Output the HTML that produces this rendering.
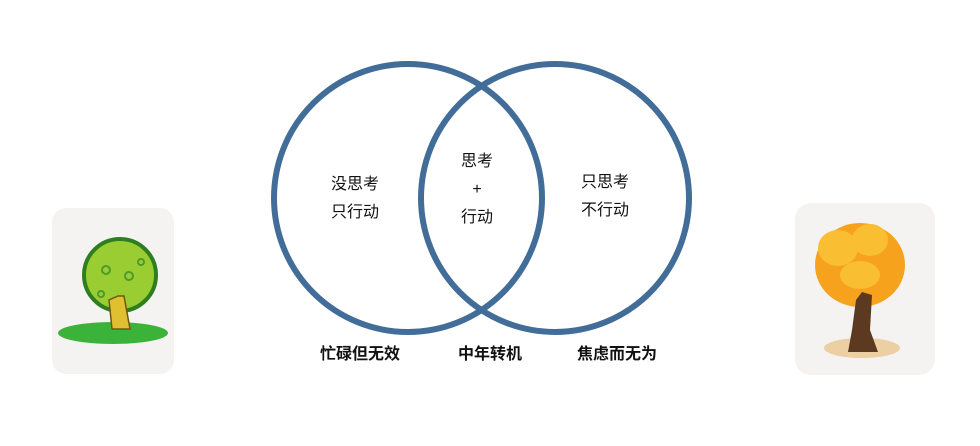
<!DOCTYPE html>
<html><head><meta charset="utf-8"><style>
body{margin:0;width:980px;height:446px;background:#fff;overflow:hidden;position:relative;font-family:"Liberation Sans","Noto Sans CJK SC",sans-serif;}
.t{position:absolute;font-size:16px;color:#111;text-align:center;transform:translateX(-50%);white-space:nowrap;line-height:28px}
.b{font-weight:bold}
</style></head><body>
<svg width="980" height="446" style="position:absolute;left:0;top:0">
<rect x="52" y="208" width="122" height="166" rx="14" fill="#f4f3f2"/>
<ellipse cx="113" cy="333" rx="55" ry="11" fill="#3bb33a"/>
<circle cx="120" cy="275" r="36" fill="#9acd32" stroke="#2e7d1f" stroke-width="4"/>
<circle cx="106" cy="270" r="4" fill="none" stroke="#4e9a2a" stroke-width="2"/>
<circle cx="129" cy="276" r="4" fill="none" stroke="#4e9a2a" stroke-width="2"/>
<circle cx="141" cy="262" r="3" fill="none" stroke="#4e9a2a" stroke-width="2"/>
<circle cx="101" cy="294" r="3" fill="none" stroke="#4e9a2a" stroke-width="2"/>
<polygon points="112,329 130,329 124,296 118,296 109,300" fill="#e0c030" stroke="#6d5a10" stroke-width="1.5"/>
<rect x="795" y="203" width="140" height="172" rx="16" fill="#f4f3f2"/>
<ellipse cx="862" cy="348" rx="38" ry="10" fill="#eccfa3"/>
<ellipse cx="860" cy="265" rx="45" ry="42" fill="#f7a21c"/>
<ellipse cx="838" cy="248" rx="20" ry="18" fill="#f9be32"/>
<ellipse cx="870" cy="240" rx="18" ry="16" fill="#f9be32"/>
<ellipse cx="860" cy="275" rx="20" ry="14" fill="#f9be32"/>
<polygon points="848,352 878,352 870,330 872,295 862,292 856,300 852,330" fill="#5c3a22"/>
<circle cx="408" cy="198" r="134" fill="none" stroke="#426d99" stroke-width="6"/>
<circle cx="555" cy="198" r="134" fill="none" stroke="#426d99" stroke-width="6"/>
</svg>
<div class="t" style="left:355px;top:171px">没思考<br>只行动</div>
<div class="t" style="left:477px;top:148px">思考<br>+<br>行动</div>
<div class="t" style="left:605px;top:169px">只思考<br>不行动</div>
<div class="t b" style="left:360px;top:341px">忙碌但无效</div>
<div class="t b" style="left:490px;top:341px">中年转机</div>
<div class="t b" style="left:617px;top:341px">焦虑而无为</div>
</body></html>
